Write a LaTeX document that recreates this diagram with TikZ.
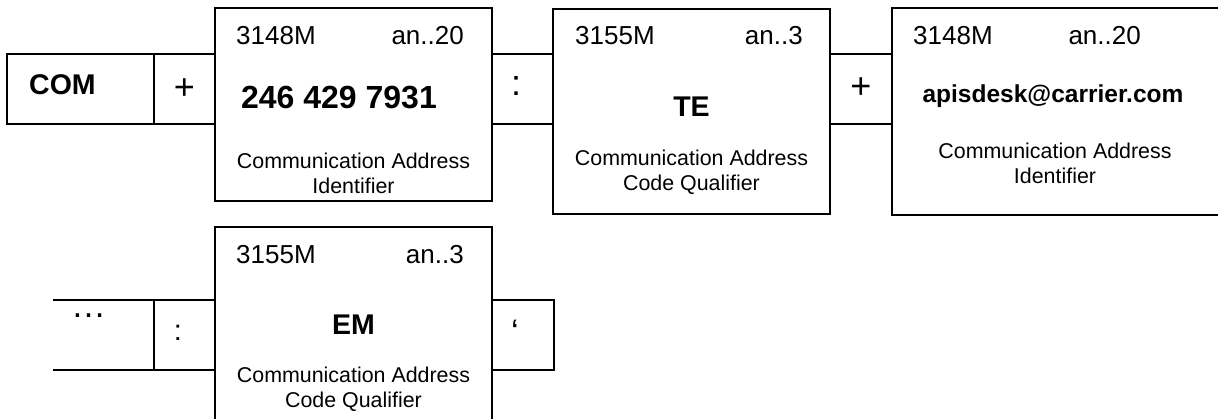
\documentclass[tikz,border=0pt]{standalone}
\usepackage{fontspec}
\setmainfont{Liberation Sans}
\usetikzlibrary{positioning}
\tikzset{
  segcell/.style={
    rectangle,
    draw=black,
    line width=1.7pt,
    inner sep=0pt,
    outer sep=0pt,
    minimum height=70pt
  },
  fieldbox/.style={
    rectangle,
    draw=black,
    line width=1.7pt,
    inner sep=0pt,
    outer sep=0pt,
    anchor=north west,
    minimum width=277pt
  },
  tagtext/.style={inner sep=0pt, font=\fontsize{26}{30}\selectfont},
  valtext/.style={inner sep=0pt, anchor=base, font=\bfseries\fontsize{28.5}{32}\selectfont},
  mailtext/.style={inner sep=0pt, anchor=base, font=\bfseries\fontsize{24.5}{28}\selectfont},
  desctext/.style={inner sep=0pt, anchor=base, align=center, font=\fontsize{21.4}{25}\selectfont},
  septext/.style={inner sep=0pt, anchor=base, font=\fontsize{36}{40}\selectfont},
  segline/.style={line width=1.7pt}
}

\begin{document}
\begin{tikzpicture}[x=1pt,y=-1pt]
\path[use as bounding box, clip] (0,0) rectangle (1218,418);

% first row
\node[segcell, anchor=north west, minimum width=147pt] (com) at (7,54) {};
\node[segcell, minimum width=61pt, right=0pt of com] (plus1) {};
\node[fieldbox, minimum height=193pt] (ident1) at (215,8) {};
\node[segcell, anchor=north west, minimum width=61pt] (colon1) at (492,54) {};
\node[fieldbox, minimum height=205pt] (qual1) at (553,9) {};
\node[segcell, anchor=north west, minimum width=62pt] (plus2) at (830,54) {};
\node[fieldbox, minimum width=400pt, minimum height=207pt] (ident2) at (892,8) {};

\node[valtext, anchor=base west] (comtxt) at (29,94) {COM};
\node[septext] (plus1txt) at (184.5,99) {+};
\node[septext] (colon1txt) at (516,95) {:};
\node[septext] (plus2txt) at (861,98) {+};

\node[tagtext, anchor=base west] (ident1tag) at (236,44) {3148M};
\node[tagtext, anchor=base east] (ident1fmt) at (464,44) {an..20};
\node[valtext, font=\bfseries\fontsize{32}{36}\selectfont] (ident1val) at (339,108) {246 429 7931};
\node[desctext] (ident1desc) at (353.5,193) {Communication Address\\Identifier};

\node[tagtext, anchor=base west] (qual1tag) at (575,44) {3155M};
\node[tagtext, anchor=base east] (qual1fmt) at (803,44) {an..3};
\node[valtext] (qual1val) at (691.5,116) {TE};
\node[desctext] (qual1desc) at (691.5,190) {Communication Address\\Code Qualifier};

\node[tagtext, anchor=base west] (ident2tag) at (913,44) {3148M};
\node[tagtext, anchor=base east] (ident2fmt) at (1141,44) {an..20};
\node[mailtext] (ident2val) at (1053,102) {apisdesk@carrier.com};
\node[desctext] (ident2desc) at (1055,183) {Communication Address\\Identifier};

% second row
\coordinate (moretop) at (53,300);
\coordinate (morebot) at (53,370);
\node[segcell, anchor=north west, minimum width=61pt] (colon2) at (154,300) {};
\node[fieldbox, minimum height=220pt] (qual2) at (215,227) {};
\node[segcell, anchor=north west, minimum width=62pt] (endcell) at (492,300) {};
\draw[segline] (moretop) -- (colon2.north west);
\draw[segline] (morebot) -- (colon2.south west);

\node[septext, font=\fontsize{35}{40}\selectfont] (moretxt) at (88.5,317) {…};
\node[septext, font=\fontsize{29}{34}\selectfont] (colon2txt) at (178,340) {:};
\node[septext, font=\fontsize{34}{38}\selectfont] (endtxt) at (515,343) {‘};

\node[tagtext, anchor=base west] (qual2tag) at (236,263) {3155M};
\node[tagtext, anchor=base east] (qual2fmt) at (464,263) {an..3};
\node[valtext] (qual2val) at (353.5,334) {EM};
\node[desctext] (qual2desc) at (353.5,407) {Communication Address\\Code Qualifier};
\end{tikzpicture}
\end{document}
